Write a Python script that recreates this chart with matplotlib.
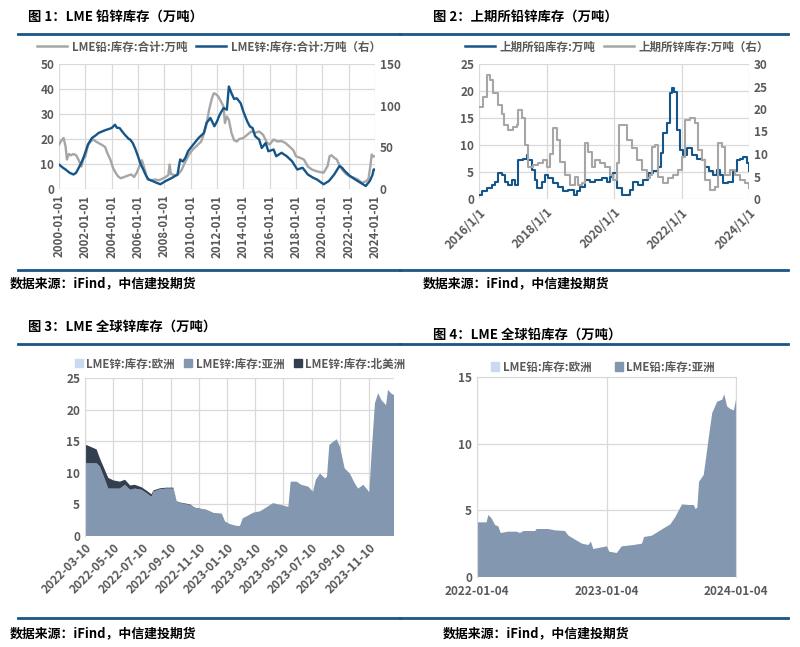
import matplotlib
matplotlib.use('Agg')
import matplotlib.pyplot as plt
import pandas as pd
from matplotlib.lines import Line2D
from matplotlib.patches import Patch

plt.rcParams['font.family'] = ['Noto Sans CJK SC', 'DejaVu Sans']
plt.rcParams['font.weight'] = 'bold'
plt.rcParams['axes.unicode_minus'] = False

# ---------------- Data ----------------
# Fig 1: LME lead (left, 万吨) and LME zinc (right, 万吨)
lme_lead_years = [2000.0, 2000.2, 2000.35, 2000.5, 2000.6, 2000.75, 2000.9, 2001.1, 2001.3, 2001.5,
                  2001.7, 2001.85, 2002.0, 2002.2, 2002.4, 2002.6, 2002.8, 2003.0, 2003.3, 2003.5,
                  2003.7, 2003.9, 2004.1, 2004.3, 2004.5, 2004.7, 2005.0, 2005.3, 2005.5, 2005.7,
                  2005.9, 2006.1, 2006.3, 2006.5, 2006.7, 2007.0, 2007.3, 2007.6, 2008.0, 2008.3,
                  2008.4, 2008.5, 2008.8, 2009.0, 2009.3, 2009.6, 2009.9, 2010.2, 2010.5, 2010.8,
                  2011.0, 2011.2, 2011.4, 2011.6, 2011.75, 2011.9, 2012.1, 2012.3, 2012.5, 2012.6,
                  2012.75, 2012.9, 2013.1, 2013.3, 2013.5, 2013.7, 2014.0, 2014.3, 2014.6, 2014.9,
                  2015.2, 2015.5, 2015.8, 2016.0, 2016.3, 2016.6, 2016.9, 2017.2, 2017.5, 2017.8,
                  2018.0, 2018.3, 2018.6, 2018.9, 2019.2, 2019.5, 2019.8, 2020.1, 2020.4, 2020.55,
                  2020.7, 2020.9, 2021.1, 2021.3, 2021.5, 2021.8, 2022.1, 2022.4, 2022.7, 2023.0,
                  2023.3, 2023.5, 2023.65, 2023.75, 2023.85, 2024.0]
lme_lead_vals = [17.8, 19.5, 20.4, 17.0, 11.8, 14.0, 13.5, 14.0, 13.5, 11.5,
                 9.0, 12.0, 13.0, 17.5, 19.0, 19.8, 19.0, 18.4, 17.5, 16.8,
                 14.0, 11.8, 8.5, 6.5, 5.0, 4.3, 4.9, 5.5, 5.8, 4.8,
                 6.5, 9.0, 11.5, 8.0, 4.0, 3.5, 3.8, 3.5, 4.5, 5.5,
                 9.8, 6.0, 5.5, 5.5, 7.5, 11.0, 14.0, 16.0, 17.5, 19.0,
                 22.0, 25.7, 31.7, 36.0, 38.3, 38.0, 37.0, 35.0, 33.0, 26.4,
                 29.0, 27.7, 22.4, 19.5, 19.0, 20.0, 20.4, 21.7, 23.0, 22.5,
                 23.0, 21.7, 18.5, 17.8, 19.8, 19.0, 19.2, 18.4, 17.0, 15.5,
                 13.1, 12.5, 11.8, 9.0, 7.8, 7.2, 6.8, 6.5, 9.2, 13.1,
                 13.5, 12.5, 11.8, 9.5, 7.8, 6.0, 5.0, 4.5, 3.8, 2.5,
                 3.0, 4.0, 9.2, 13.8, 13.0, 13.1]

lme_zinc_years = [2000.0, 2000.3, 2000.5, 2000.8, 2001.1, 2001.3, 2001.5, 2001.7, 2001.9, 2002.2,
                  2002.5, 2002.8, 2003.0, 2003.5, 2004.0, 2004.25, 2004.4, 2004.6, 2004.8, 2005.0,
                  2005.3, 2005.4, 2005.6, 2005.8, 2006.0, 2006.2, 2006.4, 2006.6, 2006.8, 2007.1,
                  2007.4, 2007.7, 2008.1, 2008.6, 2009.0, 2009.2, 2009.4, 2009.6, 2009.8, 2010.2,
                  2010.6, 2011.0, 2011.2, 2011.5, 2011.8, 2012.0, 2012.2, 2012.5, 2012.75, 2012.9,
                  2013.1, 2013.3, 2013.5, 2013.8, 2014.0, 2014.3, 2014.5, 2014.7, 2014.9, 2015.2,
                  2015.4, 2015.7, 2015.9, 2016.3, 2016.5, 2016.9, 2017.3, 2017.7, 2018.1, 2018.5,
                  2018.9, 2019.3, 2019.6, 2019.8, 2020.1, 2020.5, 2020.9, 2021.3, 2021.5, 2021.7,
                  2022.1, 2022.5, 2022.9, 2023.3, 2023.6, 2023.8, 2023.9, 2024.0]
lme_zinc_vals = [29.4, 25.5, 23.4, 19.5, 17.4, 19.5, 25.5, 31.5, 39.3, 53.4,
                 61.2, 64.5, 67.2, 70.5, 73.2, 77.1, 73.5, 73.2, 69.0, 65.1,
                 60.0, 59.4, 55.2, 48.0, 39.3, 30.0, 23.4, 16.5, 11.4, 9.6,
                 7.5, 5.7, 9.6, 13.5, 17.4, 35.4, 33.0, 37.5, 45.3, 53.4,
                 61.2, 67.2, 79.2, 85.2, 75.3, 81.0, 89.1, 97.2, 95.1, 123.0,
                 114.9, 108.0, 108.9, 102.9, 93.0, 81.0, 75.0, 73.2, 63.3, 59.4,
                 49.2, 55.2, 45.3, 47.4, 39.3, 43.5, 39.3, 33.3, 23.4, 25.5,
                 17.4, 13.5, 11.4, 9.0, 5.7, 9.6, 17.4, 27.6, 25.5, 21.6,
                 15.6, 11.4, 7.5, 3.6, 9.6, 16.5, 23.4, 23.4]

# Fig 2: SHFE lead (left) and SHFE zinc (right)
shfe_lead_years = [2016.0, 2016.08, 2016.23, 2016.38, 2016.47, 2016.57, 2016.67, 2016.77, 2016.87, 2016.97,
                   2017.07, 2017.17, 2017.31, 2017.41, 2017.46, 2017.56, 2017.66, 2017.71, 2017.86, 2017.96,
                   2018.05, 2018.2, 2018.35, 2018.5, 2018.65, 2018.8, 2018.89, 2018.99, 2019.14, 2019.29,
                   2019.44, 2019.63, 2019.78, 2019.88, 2019.98, 2020.08, 2020.23, 2020.38, 2020.47, 2020.57,
                   2020.72, 2020.87, 2021.02, 2021.17, 2021.31, 2021.39, 2021.46, 2021.56, 2021.66, 2021.71,
                   2021.79, 2021.86, 2021.96, 2022.05, 2022.15, 2022.3, 2022.45, 2022.6, 2022.7, 2022.8,
                   2022.94, 2023.04, 2023.14, 2023.24, 2023.39, 2023.54, 2023.64, 2023.73, 2023.83, 2023.93,
                   2024.0]
shfe_lead_vals = [0.7, 1.4, 2.0, 2.6, 3.2, 4.8, 4.4, 3.2, 2.6, 3.5,
                  2.6, 7.2, 7.5, 8.1, 7.2, 5.4, 3.5, 2.0, 3.2, 4.4,
                  3.8, 2.9, 2.3, 1.4, 1.7, 0.7, 1.4, 2.3, 3.5, 3.2,
                  3.5, 3.8, 3.2, 4.1, 4.8, 2.0, 0.7, 0.7, 1.7, 3.2,
                  2.6, 3.5, 4.8, 5.1, 6.0, 8.5, 12.2, 14.0, 19.6, 20.5,
                  19.9, 12.8, 9.1, 8.1, 9.4, 8.1, 7.5, 7.2, 6.0, 5.1,
                  4.4, 5.4, 4.4, 2.9, 3.2, 5.1, 7.2, 7.5, 7.8, 6.6,
                  5.1]

shfe_zinc_years = [2016.0, 2016.13, 2016.23, 2016.33, 2016.42, 2016.57, 2016.67, 2016.75, 2016.87, 2017.02,
                   2017.12, 2017.17, 2017.26, 2017.36, 2017.46, 2017.61, 2017.76, 2017.91, 2018.0, 2018.1,
                   2018.2, 2018.3, 2018.4, 2018.55, 2018.7, 2018.84, 2018.94, 2019.04, 2019.14, 2019.24,
                   2019.34, 2019.44, 2019.59, 2019.73, 2019.88, 2019.98, 2020.08, 2020.15, 2020.23, 2020.38,
                   2020.52, 2020.67, 2020.82, 2020.97, 2021.07, 2021.12, 2021.21, 2021.31, 2021.46, 2021.61,
                   2021.76, 2021.91, 2022.0, 2022.1, 2022.25, 2022.4, 2022.48, 2022.6, 2022.7, 2022.84,
                   2022.99, 2023.09, 2023.21, 2023.29, 2023.44, 2023.59, 2023.73, 2023.88, 2024.0]
shfe_zinc_vals = [20.5, 22.7, 27.6, 26.4, 23.5, 20.9, 19.0, 16.4, 15.3, 16.1,
                  16.4, 19.8, 17.9, 12.0, 7.2, 7.6, 7.9, 8.7, 7.2, 10.1,
                  15.7, 13.1, 8.3, 5.3, 3.1, 5.0, 3.1, 3.5, 12.4, 10.5,
                  7.2, 8.7, 7.9, 7.2, 5.3, 4.2, 7.9, 16.4, 16.4, 13.1,
                  11.3, 8.7, 6.4, 4.6, 5.3, 11.6, 12.0, 5.0, 3.5, 4.6,
                  5.3, 6.4, 9.4, 17.6, 17.9, 16.8, 10.9, 8.7, 4.2, 2.0,
                  2.7, 12.4, 11.6, 5.3, 6.4, 5.3, 4.2, 3.5, 2.4]

# Fig 3: LME zinc stocks by region (stacked)
zinc_dates = ['2022-03-10', '2022-03-13', '2022-04-04', '2022-04-11', '2022-04-22', '2022-04-29',
              '2022-05-10', '2022-05-24', '2022-06-04', '2022-06-15', '2022-06-25', '2022-07-10',
              '2022-07-20', '2022-07-31', '2022-08-04', '2022-08-18', '2022-09-01', '2022-09-16',
              '2022-09-23', '2022-09-30', '2022-10-22', '2022-11-01', '2022-11-26', '2022-12-11',
              '2022-12-29', '2023-01-05', '2023-01-15', '2023-01-30', '2023-02-06', '2023-02-12',
              '2023-02-20', '2023-03-07', '2023-03-21', '2023-04-01', '2023-04-18', '2023-05-06',
              '2023-05-21', '2023-05-26', '2023-06-08', '2023-06-18', '2023-07-03', '2023-07-13',
              '2023-07-19', '2023-07-28', '2023-08-08', '2023-08-12', '2023-08-17', '2023-08-25',
              '2023-09-02', '2023-09-09', '2023-09-19', '2023-09-30', '2023-10-11', '2023-10-18',
              '2023-10-29', '2023-11-05', '2023-11-11', '2023-11-16', '2023-11-23', '2023-11-30',
              '2023-12-07', '2023-12-17', '2023-12-21', '2023-12-29', '2024-01-03']
zinc_asia = [11.2, 11.5, 11.5, 11.0, 8.9, 7.5, 7.5, 7.5, 8.1, 7.3,
             7.5, 7.3, 6.8, 6.2, 7.0, 7.4, 7.5, 7.5, 5.4, 5.2,
             4.9, 4.4, 4.1, 3.6, 3.5, 2.3, 1.9, 1.6, 1.6, 2.8,
             3.1, 3.7, 3.9, 4.4, 5.2, 4.9, 4.6, 8.6, 8.6, 8.1,
             7.8, 7.0, 8.9, 9.9, 9.1, 9.4, 14.4, 14.9, 15.3, 14.1,
             10.7, 9.9, 8.3, 7.5, 8.1, 7.5, 6.9, 13.3, 21.0, 22.6,
             21.5, 20.7, 23.1, 22.5, 22.3]
zinc_na = [3.0, 2.9, 2.2, 1.3, 1.5, 1.7, 1.3, 1.1, 0.8, 0.7,
           0.6, 0.4, 0.4, 0.4, 0.2, 0.15, 0.15, 0.15, 0.1, 0.1,
           0.1, 0.08, 0.05, 0.05, 0.03, 0.0, 0.0, 0.0, 0.0, 0.0,
           0.0, 0.0, 0.0, 0.0, 0.0, 0.0, 0.0, 0.0, 0.0, 0.0,
           0.0, 0.0, 0.0, 0.0, 0.0, 0.0, 0.0, 0.0, 0.0, 0.0,
           0.0, 0.0, 0.0, 0.0, 0.0, 0.0, 0.0, 0.0, 0.0, 0.0,
           0.0, 0.0, 0.0, 0.0, 0.0]
zinc_europe = [0.0] * len(zinc_dates)

# Fig 4: LME lead stocks by region (stacked)
lead_dates = ['2022-01-04', '2022-01-31', '2022-02-05', '2022-02-14', '2022-02-24', '2022-03-05',
              '2022-03-12', '2022-04-02', '2022-04-26', '2022-05-05', '2022-05-15', '2022-06-17',
              '2022-06-21', '2022-07-24', '2022-08-12', '2022-09-09', '2022-09-19', '2022-10-08',
              '2022-10-27', '2022-11-14', '2022-11-21', '2022-11-28', '2022-12-17', '2023-01-05',
              '2023-01-12', '2023-02-02', '2023-02-16', '2023-03-21', '2023-04-14', '2023-04-20',
              '2023-05-12', '2023-06-05', '2023-07-03', '2023-07-17', '2023-08-05', '2023-08-24',
              '2023-09-07', '2023-09-12', '2023-09-17', '2023-09-22', '2023-10-05', '2023-10-12',
              '2023-10-20', '2023-10-29', '2023-11-12', '2023-11-26', '2023-12-02', '2023-12-10',
              '2023-12-19', '2023-12-29', '2024-01-04']
lead_asia = [4.1, 4.1, 4.65, 4.4, 3.9, 3.8, 3.3, 3.4, 3.4, 3.3,
             3.45, 3.45, 3.6, 3.6, 3.5, 3.45, 3.1, 2.8, 2.5, 2.4,
             2.65, 2.1, 2.2, 2.3, 1.9, 1.8, 2.3, 2.4, 2.5, 3.0,
             3.1, 3.5, 3.95, 4.5, 5.45, 5.4, 5.4, 5.1, 5.2, 7.15,
             7.65, 9.0, 10.6, 12.3, 13.15, 13.3, 13.7, 12.8, 12.6, 12.5,
             13.3]
lead_europe = [0.0] * len(lead_dates)

fig1_xticks = list(range(2000, 2025, 2))
fig1_xlabels = [f'{y}-01-01' for y in fig1_xticks]
fig2_xticks = list(range(2016, 2025, 2))
fig2_xlabels = [f'{y}/1/1' for y in fig2_xticks]
fig3_xticks = ['2022-03-10', '2022-05-10', '2022-07-10', '2022-09-10', '2022-11-10', '2023-01-10',
               '2023-03-10', '2023-05-10', '2023-07-10', '2023-09-10', '2023-11-10']
fig4_xticks = ['2022-01-04', '2023-01-04', '2024-01-04']

# ---------------- Styling ----------------
W, H = 800, 647
GRID = '#D9D9D9'
TXT = '#595959'
RULE = '#1B5586'
BLUE = '#15568A'
GRAYL = '#A6A6A6'
C_EU = '#C9D9EF'
C_AS = '#8497B0'
C_NA = '#333F50'

fig = plt.figure(figsize=(W / 100, H / 100), dpi=100)


def rect(l, t, r, b):
    return [l / W, 1 - b / H, (r - l) / W, (b - t) / H]


def hline(x0, x1, y):
    fig.add_artist(Line2D([x0 / W, x1 / W], [1 - y / H, 1 - y / H], transform=fig.transFigure,
                          color=RULE, lw=2.0))


def ftext(x, y, s, **kw):
    fig.text(x / W, 1 - y / H, s, va='center', ha='left', **kw)


def base(ax):
    for s in ax.spines.values():
        s.set_visible(False)
    ax.tick_params(length=0, colors=TXT, labelsize=8.5)
    ax.grid(True, color=GRID, lw=0.9)
    ax.set_axisbelow(True)


# Titles, rules, sources
ftext(28, 17, '图 1：LME 铅锌库存（万吨）', fontsize=9.6, color='black')
ftext(433, 17, '图 2：上期所铅锌库存（万吨）', fontsize=9.6, color='black')
ftext(28, 327, '图 3：LME 全球锌库存（万吨）', fontsize=9.6, color='black')
ftext(433, 335, '图 4：LME 全球铅库存（万吨）', fontsize=9.6, color='black')
for (a, b) in [(18, 400), (400, 788)]:
    hline(a, b, 33.5)
    hline(a, b, 270)
    hline(a, b, 344)
    hline(a, b, 618)
src = '数据来源：iFind，中信建投期货'
for (x, y) in [(10, 283), (423, 283), (10, 633), (443, 633)]:
    ftext(x, y, src, fontsize=9.3, color='black', fontstyle='italic')

# ---- Panel 1
ax1 = fig.add_axes(rect(59, 64, 375, 189))
base(ax1)
ax1.plot(lme_lead_years, lme_lead_vals, color=GRAYL, lw=1.7)
ax1.set_xlim(2000, 2024)
ax1.set_ylim(0, 50)
ax1.set_yticks(range(0, 51, 10))
ax1.set_xticks(fig1_xticks)
ax1.set_xticklabels(fig1_xlabels, rotation=90, fontsize=8.3)
ax1.tick_params(axis='x', pad=4)
ax1b = ax1.twinx()
for s in ax1b.spines.values():
    s.set_visible(False)
ax1b.plot(lme_zinc_years, lme_zinc_vals, color=BLUE, lw=1.7)
ax1b.set_ylim(0, 150)
ax1b.set_yticks([0, 50, 100, 150])
ax1b.tick_params(length=0, colors=TXT, labelsize=8.5)
h1 = [Line2D([], [], color=GRAYL, lw=1.8), Line2D([], [], color=BLUE, lw=1.8)]
fig.legend(h1, ['LME铅:库存:合计:万吨', 'LME锌:库存:合计:万吨（右）'], loc='center',
           bbox_to_anchor=(209 / W, 1 - 47 / H), ncol=2, frameon=False, fontsize=8.3,
           labelcolor=TXT, handlelength=2.6, columnspacing=0.8, handletextpad=0.4)

# ---- Panel 2
ax2 = fig.add_axes(rect(479, 64, 749, 199))
base(ax2)
ax2.plot(shfe_lead_years, shfe_lead_vals, color=BLUE, lw=1.5, drawstyle='steps-post')
ax2.set_xlim(2016, 2024)
ax2.set_ylim(0, 25)
ax2.set_yticks(range(0, 26, 5))
ax2.set_xticks(fig2_xticks)
ax2.set_xticklabels(fig2_xlabels, rotation=45, ha='right', rotation_mode='anchor', fontsize=8.5)
ax2.tick_params(axis='x', pad=5)
ax2b = ax2.twinx()
for s in ax2b.spines.values():
    s.set_visible(False)
ax2b.plot(shfe_zinc_years, shfe_zinc_vals, color=GRAYL, lw=1.5, drawstyle='steps-post')
ax2b.set_ylim(0, 30)
ax2b.set_yticks(range(0, 31, 5))
ax2b.tick_params(length=0, colors=TXT, labelsize=8.5)
h2 = [Line2D([], [], color=BLUE, lw=1.8), Line2D([], [], color=GRAYL, lw=1.8)]
fig.legend(h2, ['上期所铅库存:万吨', '上期所锌库存:万吨（右）'], loc='center',
           bbox_to_anchor=(617 / W, 1 - 47 / H), ncol=2, frameon=False, fontsize=8.3,
           labelcolor=TXT, handlelength=2.6, columnspacing=0.8, handletextpad=0.4)

# ---- Panel 3
ax3 = fig.add_axes(rect(85, 378, 394, 536))
base(ax3)
zd = pd.to_datetime(zinc_dates)
ax3.stackplot(zd, zinc_europe, zinc_asia, zinc_na, colors=[C_EU, C_AS, C_NA], lw=0)
ax3.set_xlim(pd.Timestamp('2022-03-10'), pd.Timestamp('2024-01-03'))
ax3.set_ylim(0, 25)
ax3.set_yticks(range(0, 26, 5))
ax3.set_xticks(pd.to_datetime(fig3_xticks))
ax3.set_xticklabels(fig3_xticks, rotation=45, ha='right', rotation_mode='anchor', fontsize=8.5)
ax3.tick_params(axis='x', pad=4)
ax3.spines['left'].set_visible(True)
ax3.spines['left'].set_color(GRID)
h3 = [Patch(color=C_EU), Patch(color=C_AS), Patch(color=C_NA)]
fig.legend(h3, ['LME锌:库存:欧洲', 'LME锌:库存:亚洲', 'LME锌:库存:北美洲'], loc='center',
           bbox_to_anchor=(240 / W, 1 - 364 / H), ncol=3, frameon=False, fontsize=8.3,
           labelcolor=TXT, handlelength=0.7, handleheight=0.7, columnspacing=0.8, handletextpad=0.3)

# ---- Panel 4
ax4 = fig.add_axes(rect(477, 377, 736, 577))
base(ax4)
ld = pd.to_datetime(lead_dates)
ax4.stackplot(ld, lead_europe, lead_asia, colors=[C_EU, C_AS], lw=0)
ax4.set_xlim(pd.Timestamp('2022-01-04'), pd.Timestamp('2024-01-04'))
ax4.set_ylim(0, 15)
ax4.set_yticks(range(0, 16, 5))
ax4.set_xticks(pd.to_datetime(fig4_xticks))
ax4.set_xticklabels(fig4_xticks, fontsize=8.5)
ax4.tick_params(axis='x', pad=6)
for s in ['left', 'right', 'top']:
    ax4.spines[s].set_visible(True)
    ax4.spines[s].set_color(GRID)
h4 = [Patch(color=C_EU), Patch(color=C_AS)]
fig.legend(h4, ['LME铅:库存:欧洲', 'LME铅:库存:亚洲'], loc='center',
           bbox_to_anchor=(603 / W, 1 - 367 / H), ncol=2, frameon=False, fontsize=8.3,
           labelcolor=TXT, handlelength=0.7, handleheight=0.7, columnspacing=2.0, handletextpad=0.3)

fig.savefig('out.png', dpi=100)
